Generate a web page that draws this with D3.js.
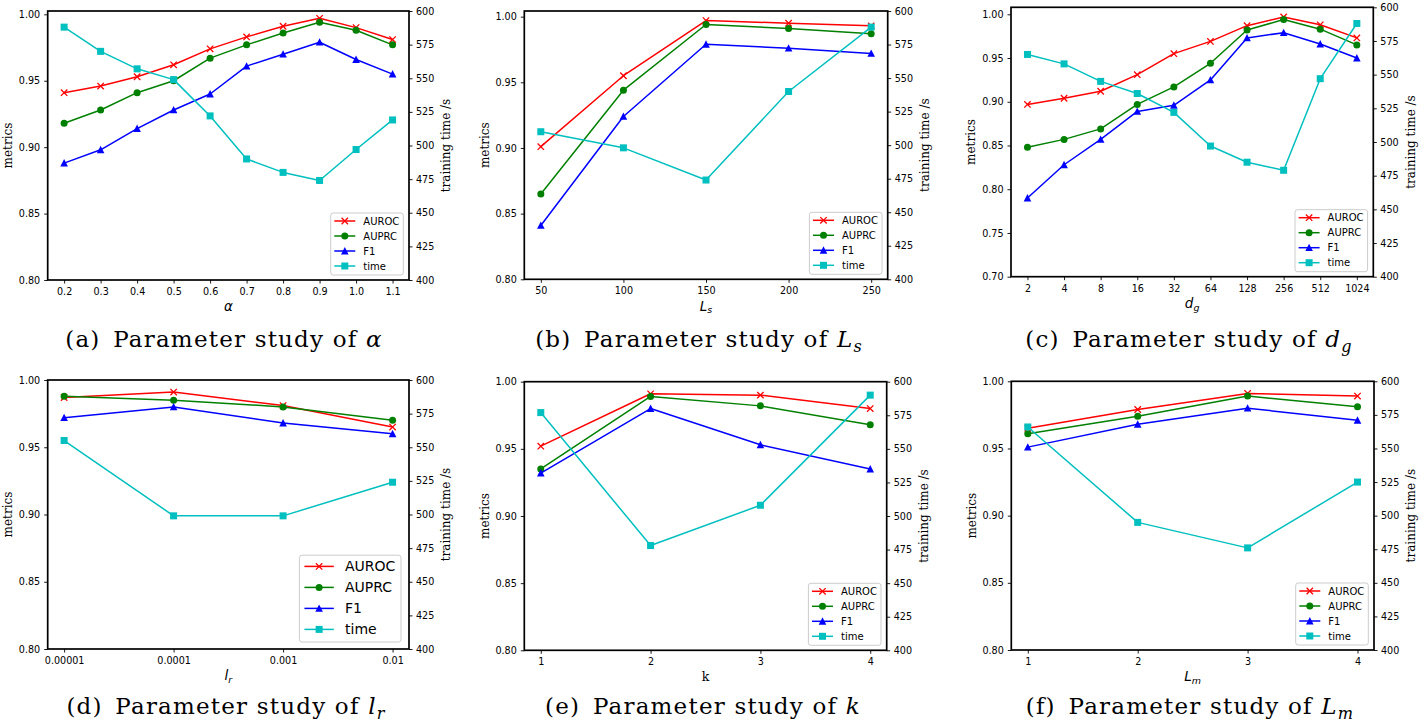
<!DOCTYPE html>
<html><head><meta charset="utf-8">
<script src="https://cdn.jsdelivr.net/npm/d3@7/dist/d3.min.js"></script>
<style>
html,body{margin:0;padding:0;background:#fff;}
svg{display:block;}
</style></head>
<body>
<svg id="chart" width="1424" height="724"></svg>
<script>
// ---------------- data ----------------
const seriesNames = ["AUROC", "AUPRC", "F1", "time"];
const metricTicks = [0.80, 0.85, 0.90, 0.95, 1.00];
const metricTicksWide = [0.70, 0.75, 0.80, 0.85, 0.90, 0.95, 1.00];
const timeTicks = [400, 425, 450, 475, 500, 525, 550, 575, 600];

// (a) alpha
const alphaLabels = ["0.2","0.3","0.4","0.5","0.6","0.7","0.8","0.9","1.0","1.1"];
const alphaAUROC = [0.941,0.946,0.953,0.962,0.974,0.983,0.991,0.997,0.990,0.981];
const alphaAUPRC = [0.918,0.928,0.941,0.950,0.967,0.977,0.986,0.994,0.988,0.977];
const alphaF1    = [0.888,0.898,0.914,0.928,0.940,0.961,0.970,0.979,0.966,0.955];
const alphaTime  = [588,570,557,549,522,490,480,474,497,519];

// (b) L_s
const lsLabels = ["50","100","150","200","250"];
const lsAUROC = [0.901,0.955,0.997,0.995,0.993];
const lsAUPRC = [0.865,0.944,0.994,0.991,0.987];
const lsF1    = [0.841,0.924,0.979,0.976,0.972];
const lsTime  = [510,498,474,540,588];

// (c) d_g
const dgLabels = ["2","4","8","16","32","64","128","256","512","1024"];
const dgAUROC = [0.897,0.904,0.912,0.931,0.955,0.969,0.987,0.997,0.988,0.973];
const dgAUPRC = [0.848,0.857,0.869,0.897,0.917,0.944,0.982,0.994,0.983,0.965];
const dgF1    = [0.790,0.828,0.857,0.889,0.896,0.925,0.973,0.979,0.966,0.950];
const dgTime  = [565,558,545,536,522,497,485,479,547,588];

// (d) l_r
const lrLabels = ["0.00001","0.0001","0.001","0.01"];
const lrAUROC = [0.987,0.991,0.981,0.965];
const lrAUPRC = [0.988,0.985,0.980,0.970];
const lrF1    = [0.972,0.980,0.968,0.960];
const lrTime  = [555,499,499,524];

// (e) k
const kLabels = ["1","2","3","4"];
const kAUROC = [0.952,0.991,0.990,0.980];
const kAUPRC = [0.935,0.989,0.982,0.968];
const kF1    = [0.932,0.980,0.953,0.935];
const kTime  = [577,478,508,590];

// (f) L_m
const lmLabels = ["1","2","3","4"];
const lmAUROC = [0.965,0.979,0.991,0.989];
const lmAUPRC = [0.961,0.974,0.989,0.981];
const lmF1    = [0.951,0.968,0.980,0.971];
const lmTime  = [566,495,476,525];

// ---------------- styles ----------------
const colors = {AUROC:"#ff0000", AUPRC:"#008000", F1:"#0000ff", time:"#00bfbf"};
const markers = {AUROC:"x", AUPRC:"o", F1:"^", time:"s"};
const SANS = "'DejaVu Sans', sans-serif";
const SERIF = "'DejaVu Serif', serif";

const panels = [
  {tag:"a", labels:alphaLabels, series:[alphaAUROC,alphaAUPRC,alphaF1,alphaTime],
   box:[47.7,409,11,280], yDom:[0.8,1.0025], yTicks:metricTicks, legendScale:1,
   xlab:{main:"α"}, capMath:{main:"α"}, capX:224, capY:347},
  {tag:"b", labels:lsLabels, series:[lsAUROC,lsAUPRC,lsF1,lsTime],
   box:[524.3,887.7,11,279.3], yDom:[0.8,1.0043], yTicks:metricTicks, legendScale:1,
   xlab:{main:"L",sub:"s"}, capMath:{main:"L",sub:"s"}, capX:699, capY:347},
  {tag:"c", labels:dgLabels, series:[dgAUROC,dgAUPRC,dgF1,dgTime],
   box:[1011,1373.3,7.3,276.7], yDom:[0.7,1.008], yTicks:metricTicksWide, legendScale:1,
   xlab:{main:"d",sub:"g"}, capMath:{main:"d",sub:"g"}, capX:1189, capY:347},
  {tag:"d", labels:lrLabels, series:[lrAUROC,lrAUPRC,lrF1,lrTime],
   box:[47.7,409,380,649], yDom:[0.8,1.0], yTicks:metricTicks, legendScale:1.4,
   xlab:{main:"l",sub:"r"}, capMath:{main:"l",sub:"r"}, capX:226, capY:714},
  {tag:"e", labels:kLabels, series:[kAUROC,kAUPRC,kF1,kTime],
   box:[524.3,886.7,381.7,650.3], yDom:[0.8,1.0], yTicks:metricTicks, legendScale:1,
   xlab:{main:"k",plain:true}, capMath:{main:"k"}, capX:703, capY:714},
  {tag:"f", labels:lmLabels, series:[lmAUROC,lmAUPRC,lmF1,lmTime],
   box:[1011.3,1374,381.3,650], yDom:[0.8,1.0], yTicks:metricTicks, legendScale:1,
   xlab:{main:"L",sub:"m"}, capMath:{main:"L",sub:"m"}, capX:1190, capY:714}
];

const svg = d3.select("#chart");

function drawMarker(g, type, color, cx, cy) {
  if (type === "x") {
    g.append("path").attr("d", `M${cx-3.2},${cy-3.2}L${cx+3.2},${cy+3.2}M${cx-3.2},${cy+3.2}L${cx+3.2},${cy-3.2}`)
      .attr("stroke", color).attr("stroke-width", 1.3).attr("fill", "none");
  } else if (type === "o") {
    g.append("circle").attr("cx", cx).attr("cy", cy).attr("r", 3.5).attr("fill", color);
  } else if (type === "^") {
    g.append("path").attr("d", `M${cx},${cy-4}L${cx+3.8},${cy+3.4}L${cx-3.8},${cy+3.4}Z`).attr("fill", color);
  } else if (type === "s") {
    g.append("rect").attr("x", cx-3.5).attr("y", cy-3.5).attr("width", 7).attr("height", 7).attr("fill", color);
  }
}

function styleAxis(ag, fontSize) {
  ag.select(".domain").remove();
  ag.selectAll(".tick line").attr("stroke", "#000").attr("stroke-width", 0.9);
  ag.selectAll(".tick text").attr("font-family", SANS).attr("font-size", fontSize).attr("fill", "#000");
}

function addMath(textSel, spec, fontSize, italic) {
  textSel.append("tspan").text(spec.main).attr("font-style", italic ? "italic" : "normal");
  if (spec.sub) {
    textSel.append("tspan").text(spec.sub).attr("font-style", italic ? "italic" : "normal")
      .attr("font-size", fontSize * 0.7).attr("dy", fontSize * 0.22);
  }
}

panels.forEach(p => {
  const [x0, x1, y0, y1] = p.box;
  const n = p.labels.length;
  const g = svg.append("g");
  const x = d3.scaleLinear().domain([-0.05 * (n - 1), 1.05 * (n - 1)]).range([x0, x1]);
  const yL = d3.scaleLinear().domain(p.yDom).range([y1, y0]);
  const yR = d3.scaleLinear().domain([400, 600]).range([y1, y0]);

  // axes
  const ax = g.append("g").attr("transform", `translate(0,${y1})`)
    .call(d3.axisBottom(x).tickValues(d3.range(n)).tickFormat(i => p.labels[i]).tickSize(3.5).tickPadding(4.5));
  styleAxis(ax, 9.6);
  const ayl = g.append("g").attr("transform", `translate(${x0},0)`)
    .call(d3.axisLeft(yL).tickValues(p.yTicks).tickFormat(d3.format(".2f")).tickSize(3.5).tickPadding(4));
  styleAxis(ayl, 9.6);
  const ayr = g.append("g").attr("transform", `translate(${x1},0)`)
    .call(d3.axisRight(yR).tickValues(timeTicks).tickFormat(d3.format("d")).tickSize(3.5).tickPadding(3.5));
  styleAxis(ayr, 9.6);

  // lines
  const clipG = g.append("g");
  seriesNames.forEach((name, si) => {
    const vals = p.series[si];
    const ys = name === "time" ? yR : yL;
    const line = d3.line().x((d, i) => x(i)).y(d => ys(d));
    clipG.append("path").datum(vals).attr("d", line).attr("fill", "none")
      .attr("stroke", colors[name]).attr("stroke-width", 1.5).attr("stroke-linejoin", "round");
    vals.forEach((v, i) => drawMarker(clipG, markers[name], colors[name], x(i), ys(v)));
  });

  // frame
  g.append("rect").attr("x", x0).attr("y", y0).attr("width", x1 - x0).attr("height", y1 - y0)
    .attr("fill", "none").attr("stroke", "#000").attr("stroke-width", 1.7);

  // legend
  const s = p.legendScale;
  const lw = 72.6 * s, lh = 62 * s;
  const lx = x1 - 5.7 * s - lw, ly = y1 - 5 * s - lh;
  const lg = g.append("g");
  lg.append("rect").attr("x", lx).attr("y", ly).attr("width", lw).attr("height", lh)
    .attr("rx", 2.5).attr("fill", "#fff").attr("fill-opacity", 0.8)
    .attr("stroke", "#cccccc").attr("stroke-width", 1);
  seriesNames.forEach((name, i) => {
    const cy = ly + 8 * s + i * 15 * s;
    const hx0 = lx + 3.6 * s, hx1 = lx + 24.6 * s;
    lg.append("line").attr("x1", hx0).attr("x2", hx1).attr("y1", cy).attr("y2", cy)
      .attr("stroke", colors[name]).attr("stroke-width", 1.5);
    drawMarker(lg, markers[name], colors[name], (hx0 + hx1) / 2, cy);
    lg.append("text").attr("x", lx + 32.6 * s).attr("y", cy).attr("dy", "0.36em")
      .attr("font-family", SANS).attr("font-size", 10 * s).attr("fill", "#000").text(name);
  });

  // y labels
  const my = (y0 + y1) / 2;
  g.append("text").attr("transform", `translate(${x0 - 40},${my}) rotate(-90)`)
    .attr("text-anchor", "middle").attr("dy", "0.35em")
    .attr("font-family", SERIF).attr("font-size", 12).attr("fill", "#000").text("metrics");
  g.append("text").attr("transform", `translate(${x1 + 37},${my}) rotate(-90)`)
    .attr("text-anchor", "middle").attr("dy", "0.35em")
    .attr("font-family", SERIF).attr("font-size", 12).attr("fill", "#000").text("training time /s");

  // x label
  const xl = g.append("text").attr("x", (x0 + x1) / 2).attr("y", y1 + 26.5).attr("dy", "0.35em")
    .attr("text-anchor", "middle").attr("fill", "#000");
  if (p.xlab.plain) {
    xl.attr("font-family", SERIF).attr("font-size", 12.5).text(p.xlab.main);
  } else {
    xl.attr("font-family", SANS).attr("font-size", 13.5);
    addMath(xl, p.xlab, 13.5, true);
  }

  // caption
  const cap = g.append("text").attr("x", p.capX).attr("y", p.capY).attr("text-anchor", "middle")
    .attr("font-family", SERIF).attr("font-size", 23).attr("fill", "#000")
    .attr("letter-spacing", 1.2);
  cap.append("tspan").text(`(${p.tag})\u2002Parameter study of `);
  addMath(cap, p.capMath, 23, true);
});
</script>
</body></html>
